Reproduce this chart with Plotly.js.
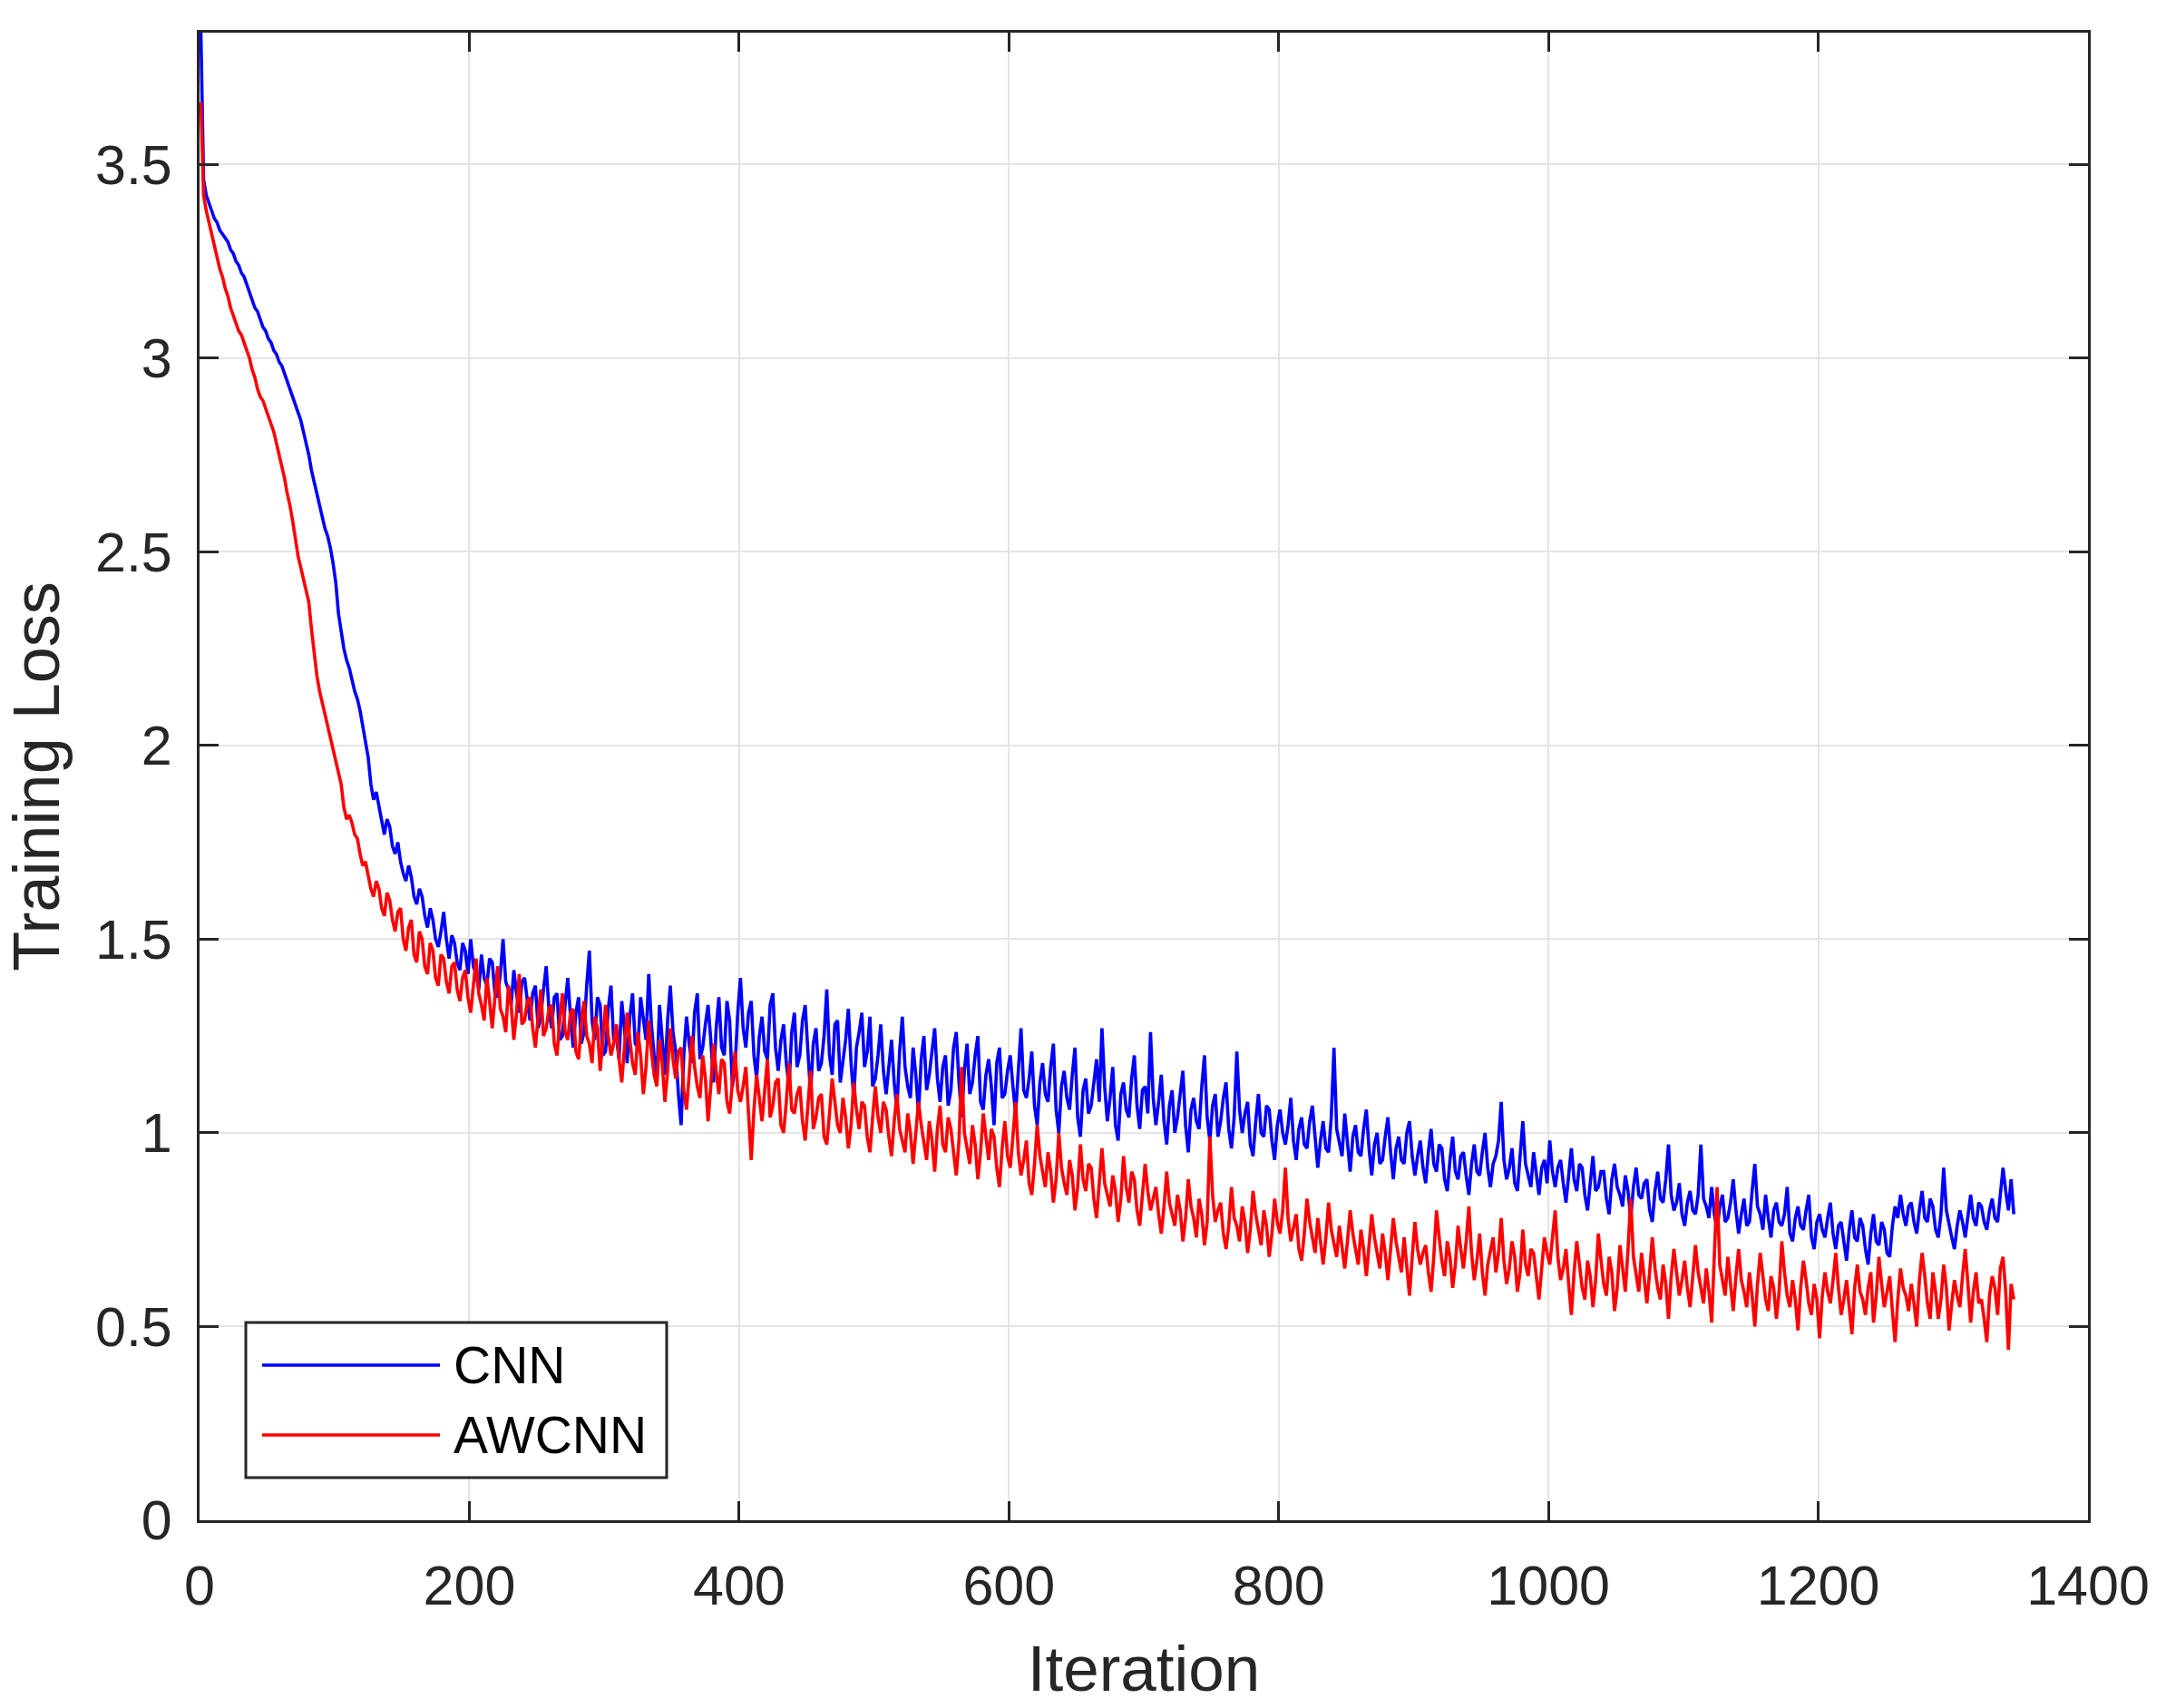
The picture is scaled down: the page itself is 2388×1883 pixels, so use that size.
<!DOCTYPE html>
<html>
<head>
<meta charset="utf-8">
<script src="https://cdn.plot.ly/plotly-3.0.1.min.js"></script>
<style>
  html, body { margin: 0; padding: 0; background: #ffffff; }
  #chart { width: 2388px; height: 1883px; }
</style>
</head>
<body>
<div id="chart"></div>
<script>
// Sampling grid of the recorded losses: every 2nd iteration starting at 1
const iterStart = 1;
const iterStep = 2;

// CNN training loss, 50 values per 100 iterations
const cnnLoss = [
  3.84,3.46,3.42,3.40,3.38,3.36,3.35,3.33,3.32,3.31,3.30,3.28,3.27,3.25,3.24,3.22,3.21,3.19,3.17,3.15,3.13,3.12,3.10,3.08,3.07,
  3.05,3.04,3.02,3.01,2.99,2.98,2.96,2.94,2.92,2.90,2.88,2.86,2.84,2.81,2.78,2.75,2.71,2.68,2.65,2.62,2.59,2.56,2.54,2.51,2.47,
  2.42,2.34,2.29,2.25,2.22,2.20,2.17,2.14,2.12,2.09,2.05,2.01,1.97,1.90,1.86,1.88,1.84,1.80,1.77,1.81,1.79,1.74,1.72,1.75,1.70,
  1.67,1.65,1.69,1.66,1.61,1.59,1.63,1.61,1.56,1.53,1.58,1.55,1.50,1.48,1.52,1.57,1.50,1.45,1.51,1.49,1.44,1.42,1.49,1.47,1.41,
  1.50,1.43,1.41,1.37,1.46,1.40,1.38,1.45,1.44,1.36,1.35,1.41,1.50,1.39,1.37,1.33,1.42,1.36,1.31,1.39,1.40,1.34,1.29,1.36,1.38,
  1.27,1.30,1.37,1.43,1.32,1.27,1.35,1.36,1.24,1.25,1.33,1.40,1.30,1.22,1.31,1.35,1.23,1.26,1.38,1.47,1.29,1.24,1.35,1.33,1.20,
  1.21,1.32,1.38,1.24,1.25,1.19,1.34,1.27,1.18,1.30,1.36,1.23,1.22,1.35,1.30,1.24,1.41,1.28,1.20,1.14,1.33,1.25,1.15,1.29,1.38,
  1.26,1.21,1.10,1.02,1.20,1.30,1.23,1.18,1.31,1.36,1.19,1.22,1.28,1.33,1.24,1.13,1.27,1.35,1.22,1.20,1.34,1.29,1.12,1.17,1.31,
  1.40,1.27,1.22,1.31,1.34,1.20,1.14,1.25,1.30,1.21,1.19,1.33,1.36,1.22,1.16,1.24,1.28,1.18,1.12,1.26,1.31,1.17,1.20,1.29,1.33,
  1.21,1.10,1.23,1.27,1.16,1.18,1.25,1.37,1.20,1.15,1.28,1.29,1.13,1.19,1.24,1.32,1.18,1.09,1.22,1.26,1.31,1.17,1.21,1.30,1.12,
  1.14,1.20,1.28,1.16,1.10,1.18,1.24,1.13,1.06,1.21,1.30,1.17,1.12,1.09,1.22,1.15,1.05,1.19,1.25,1.11,1.15,1.21,1.27,1.14,1.08,
  1.17,1.20,1.07,1.11,1.22,1.26,1.13,1.04,1.16,1.23,1.10,1.13,1.20,1.25,1.08,1.06,1.15,1.19,1.12,1.02,1.18,1.22,1.09,1.10,1.16,
  1.20,1.12,1.05,1.16,1.27,1.11,1.09,1.14,1.21,1.07,1.02,1.13,1.18,1.10,1.08,1.17,1.23,1.06,1.00,1.12,1.16,1.09,1.06,1.15,1.22,
  1.04,0.99,1.11,1.14,1.05,1.07,1.13,1.19,1.08,1.27,1.12,1.03,1.09,1.17,1.02,0.98,1.10,1.13,1.06,1.04,1.14,1.20,1.07,1.01,1.11,
  1.12,1.05,1.26,1.09,1.02,1.08,1.15,1.03,0.97,1.07,1.11,1.00,1.04,1.10,1.16,1.02,0.95,1.06,1.09,1.03,1.01,1.12,1.20,1.04,0.98,
  1.07,1.10,0.99,1.03,1.09,1.13,1.01,0.96,1.04,1.21,1.06,1.00,1.05,1.08,0.97,0.94,1.03,1.10,1.00,0.99,1.07,1.06,0.98,0.93,1.02,
  1.06,1.00,0.97,1.02,1.09,0.98,0.93,1.01,1.04,0.97,0.96,1.03,1.07,0.99,0.91,0.98,1.03,0.96,0.95,1.04,1.22,1.01,0.97,0.94,1.05,
  0.98,0.90,0.99,1.02,0.95,0.94,1.01,1.06,0.96,0.89,0.97,1.00,0.92,0.93,0.99,1.04,0.95,0.88,0.96,0.99,0.93,0.92,1.00,1.03,0.94,
  0.89,0.94,0.98,0.91,0.87,0.95,1.01,0.92,0.90,0.97,0.96,0.88,0.85,0.93,0.99,0.90,0.88,0.94,0.95,0.89,0.84,0.92,0.97,0.90,0.89,
  0.95,1.00,0.91,0.86,0.92,0.94,0.98,1.08,0.93,0.88,0.91,0.96,0.87,0.85,0.94,1.03,0.92,0.89,0.86,0.95,0.90,0.84,0.91,0.93,0.87,
  0.98,0.90,0.86,0.91,0.93,0.87,0.82,0.89,0.96,0.88,0.85,0.92,0.91,0.84,0.80,0.87,0.94,0.85,0.86,0.90,0.90,0.83,0.79,0.88,0.92,
  0.86,0.84,0.81,0.89,0.85,0.78,0.86,0.91,0.84,0.83,0.87,0.88,0.80,0.77,0.85,0.90,0.83,0.82,0.88,0.97,0.84,0.80,0.82,0.87,0.79,
  0.76,0.82,0.85,0.80,0.79,0.84,0.97,0.83,0.81,0.78,0.86,0.79,0.75,0.81,0.84,0.77,0.78,0.82,0.88,0.80,0.74,0.79,0.83,0.76,0.77,
  0.85,0.92,0.81,0.79,0.75,0.84,0.78,0.73,0.80,0.82,0.77,0.76,0.79,0.86,0.74,0.72,0.78,0.81,0.76,0.75,0.80,0.84,0.73,0.70,0.77,
  0.79,0.75,0.73,0.78,0.82,0.74,0.70,0.76,0.77,0.72,0.67,0.75,0.80,0.73,0.72,0.78,0.76,0.70,0.66,0.74,0.79,0.72,0.71,0.77,0.75,
  0.69,0.68,0.76,0.81,0.78,0.84,0.79,0.76,0.81,0.82,0.77,0.74,0.80,0.85,0.78,0.77,0.83,0.81,0.75,0.73,0.79,0.91,0.80,0.76,0.73,
  0.70,0.76,0.80,0.77,0.73,0.79,0.84,0.78,0.76,0.82,0.81,0.77,0.75,0.80,0.83,0.78,0.77,0.84,0.91,0.85,0.80,0.88,0.79
];

// AWCNN training loss, 50 values per 100 iterations
const awcnnLoss = [
  3.66,3.42,3.38,3.35,3.32,3.29,3.26,3.23,3.21,3.18,3.16,3.13,3.11,3.09,3.07,3.06,3.04,3.02,3.00,2.97,2.95,2.92,2.90,2.89,2.87,
  2.85,2.83,2.81,2.78,2.75,2.72,2.69,2.65,2.62,2.58,2.53,2.49,2.46,2.43,2.40,2.37,2.30,2.24,2.18,2.14,2.11,2.08,2.05,2.02,1.99,
  1.96,1.93,1.90,1.84,1.81,1.82,1.80,1.77,1.76,1.72,1.69,1.70,1.66,1.63,1.61,1.65,1.63,1.58,1.56,1.62,1.60,1.55,1.52,1.57,1.58,
  1.50,1.47,1.53,1.55,1.46,1.44,1.52,1.50,1.43,1.41,1.49,1.47,1.40,1.38,1.46,1.45,1.39,1.36,1.43,1.44,1.37,1.34,1.40,1.42,1.35,
  1.31,1.38,1.45,1.36,1.33,1.29,1.40,1.34,1.27,1.35,1.43,1.32,1.30,1.26,1.38,1.33,1.24,1.31,1.41,1.28,1.29,1.34,1.35,1.27,1.22,
  1.30,1.37,1.25,1.27,1.32,1.33,1.23,1.20,1.29,1.36,1.26,1.24,1.31,1.32,1.21,1.19,1.28,1.34,1.25,1.23,1.18,1.30,1.27,1.16,1.24,
  1.33,1.25,1.20,1.23,1.28,1.19,1.13,1.22,1.31,1.24,1.18,1.15,1.26,1.20,1.10,1.17,1.29,1.21,1.15,1.12,1.24,1.18,1.08,1.16,1.27,
  1.19,1.14,1.21,1.22,1.11,1.06,1.15,1.25,1.17,1.12,1.09,1.20,1.14,1.03,1.12,1.23,1.16,1.10,1.19,1.18,1.08,1.05,1.13,1.21,1.11,
  1.08,1.12,1.17,1.05,0.93,1.06,1.15,1.09,1.03,1.11,1.19,1.04,1.07,1.13,1.14,1.02,1.00,1.08,1.18,1.06,1.05,1.10,1.12,1.03,0.98,
  1.07,1.16,1.01,1.04,1.09,1.10,0.99,0.97,1.05,1.14,1.08,1.02,1.00,1.09,1.04,0.96,1.02,1.13,1.06,1.01,1.08,1.07,0.99,0.95,1.04,
  1.12,1.04,1.00,1.08,1.06,0.99,0.94,1.03,1.10,1.01,0.98,0.95,1.05,1.00,0.92,0.99,1.08,1.02,0.97,0.93,1.03,0.98,0.90,1.01,1.07,
  0.97,0.95,1.04,1.01,0.94,0.89,0.98,1.17,1.00,0.96,0.92,1.02,0.97,0.88,0.95,1.05,0.99,0.93,1.01,0.99,0.91,0.86,0.96,1.03,0.94,
  0.91,0.99,1.08,0.95,0.89,0.93,0.98,0.87,0.84,0.92,1.02,0.94,0.90,0.86,0.95,0.90,0.82,0.88,1.00,0.91,0.87,0.84,0.93,0.89,0.80,
  0.86,0.97,0.88,0.85,0.92,0.91,0.83,0.78,0.86,0.96,0.87,0.84,0.81,0.89,0.85,0.77,0.83,0.94,0.86,0.82,0.90,0.88,0.80,0.76,0.84,
  0.92,0.85,0.80,0.83,0.86,0.79,0.74,0.81,0.90,0.82,0.79,0.76,0.84,0.80,0.72,0.78,0.88,0.81,0.78,0.73,0.83,0.79,0.71,0.77,0.99,
  0.84,0.77,0.80,0.82,0.74,0.70,0.76,0.86,0.78,0.76,0.72,0.81,0.77,0.69,0.75,0.85,0.79,0.75,0.71,0.80,0.76,0.68,0.74,0.83,0.77,
  0.74,0.80,0.91,0.78,0.72,0.76,0.79,0.70,0.67,0.74,0.83,0.77,0.73,0.69,0.78,0.72,0.66,0.73,0.82,0.75,0.71,0.68,0.76,0.71,0.65,
  0.72,0.80,0.74,0.70,0.66,0.75,0.70,0.63,0.71,0.79,0.73,0.69,0.65,0.74,0.69,0.62,0.70,0.78,0.72,0.68,0.64,0.73,0.66,0.58,0.68,
  0.77,0.70,0.66,0.69,0.71,0.64,0.59,0.68,0.80,0.73,0.67,0.63,0.72,0.68,0.60,0.66,0.76,0.70,0.65,0.72,0.81,0.69,0.62,0.67,0.74,
  0.64,0.58,0.66,0.70,0.73,0.64,0.69,0.78,0.67,0.61,0.65,0.72,0.68,0.59,0.64,0.75,0.66,0.63,0.70,0.69,0.62,0.57,0.65,0.73,0.69,
  0.66,0.73,0.80,0.68,0.62,0.65,0.70,0.61,0.53,0.64,0.72,0.66,0.60,0.57,0.67,0.63,0.55,0.62,0.74,0.67,0.61,0.58,0.68,0.64,0.54,
  0.60,0.71,0.65,0.59,0.70,0.83,0.68,0.63,0.59,0.69,0.62,0.56,0.64,0.73,0.65,0.60,0.57,0.66,0.61,0.52,0.63,0.70,0.64,0.58,0.62,
  0.67,0.60,0.55,0.63,0.71,0.64,0.60,0.56,0.65,0.59,0.51,0.68,0.86,0.66,0.62,0.58,0.68,0.61,0.54,0.63,0.70,0.62,0.59,0.55,0.64,
  0.58,0.50,0.61,0.69,0.63,0.57,0.54,0.63,0.60,0.52,0.59,0.72,0.64,0.58,0.55,0.62,0.57,0.49,0.60,0.67,0.62,0.56,0.53,0.61,0.57,
  0.47,0.58,0.64,0.59,0.56,0.62,0.69,0.60,0.53,0.57,0.62,0.55,0.48,0.60,0.66,0.59,0.57,0.53,0.60,0.64,0.51,0.58,0.68,0.61,0.55,
  0.59,0.63,0.54,0.46,0.57,0.65,0.60,0.58,0.54,0.61,0.56,0.50,0.62,0.69,0.63,0.56,0.52,0.64,0.59,0.52,0.57,0.66,0.60,0.49,0.56,
  0.62,0.58,0.55,0.63,0.70,0.61,0.51,0.59,0.64,0.56,0.57,0.52,0.46,0.58,0.63,0.60,0.53,0.65,0.68,0.59,0.44,0.61,0.57
];

const seriesNames = ['CNN', 'AWCNN'];
const seriesColors = ['#0000ff', '#ff0000'];

const xTickVals = [0, 200, 400, 600, 800, 1000, 1200, 1400];
const xTickText = ['0', '200', '400', '600', '800', '1000', '1200', '1400'];
const yTickVals = [0, 0.5, 1, 1.5, 2, 2.5, 3, 3.5];
const yTickText = ['0', '0.5', '1', '1.5', '2', '2.5', '3', '3.5'];

const xTitle = 'Iteration';
const yTitle = 'Training Loss';

const iterations = cnnLoss.map((_, i) => iterStart + iterStep * i);

const traces = [
  { x: iterations, y: cnnLoss, name: seriesNames[0], type: 'scatter', mode: 'lines',
    line: { color: seriesColors[0], width: 3.6 }, showlegend: false },
  { x: iterations, y: awcnnLoss, name: seriesNames[1], type: 'scatter', mode: 'lines',
    line: { color: seriesColors[1], width: 3.6 }, showlegend: false }
];

const axisColor = '#262626';
const fontFamily = '"Liberation Sans", Arial, Helvetica, sans-serif';

// Plot-area geometry (pixels) used to place the legend box in paper coordinates
const W = 2388, H = 1883;
const M = { l: 220, r: 86, t: 36, b: 207 };
const plotW = W - M.l - M.r, plotH = H - M.t - M.b;
const px = v => (v - M.l) / plotW;
const py = v => (H - M.b - v) / plotH;

const legendBox = { x0: px(271), x1: px(735), y0: py(1629), y1: py(1458) };
const legendRows = [py(1505), py(1582)];
const legendLine = { x0: px(289), x1: px(485) };
const legendTextX = px(498);

const shapes = [
  { type: 'rect', xref: 'paper', yref: 'paper', layer: 'above',
    x0: legendBox.x0, x1: legendBox.x1, y0: legendBox.y0, y1: legendBox.y1,
    fillcolor: '#ffffff', line: { color: axisColor, width: 3 } }
];
const annotations = [];
seriesNames.forEach((name, i) => {
  shapes.push({ type: 'line', xref: 'paper', yref: 'paper', layer: 'above',
    x0: legendLine.x0, x1: legendLine.x1, y0: legendRows[i], y1: legendRows[i],
    line: { color: seriesColors[i], width: 3.4 } });
  annotations.push({ xref: 'paper', yref: 'paper', x: legendTextX, y: legendRows[i],
    xanchor: 'left', yanchor: 'middle', showarrow: false, text: name,
    font: { size: 57, color: '#000000', family: fontFamily } });
});

const commonAxis = {
  ticks: 'inside', ticklen: 21, tickwidth: 3, tickcolor: axisColor,
  showline: true, linecolor: axisColor, linewidth: 3, mirror: 'allticks',
  showgrid: true, gridcolor: '#e4e4e4', gridwidth: 2,
  zeroline: false, automargin: false,
  tickfont: { size: 61, color: axisColor, family: fontFamily }
};

const layout = {
  width: W, height: H,
  margin: { l: M.l, r: M.r, t: M.t, b: M.b, pad: 0 },
  paper_bgcolor: '#ffffff', plot_bgcolor: '#ffffff',
  font: { family: fontFamily, color: axisColor },
  showlegend: false,
  xaxis: Object.assign({}, commonAxis, {
    range: [0, 1400], tickmode: 'array', tickvals: xTickVals, ticktext: xTickText,
    ticklabelstandoff: 17,
    title: { text: xTitle, font: { size: 71, color: axisColor, family: fontFamily }, standoff: 34 }
  }),
  yaxis: Object.assign({}, commonAxis, {
    range: [0, 3.84], tickmode: 'array', tickvals: yTickVals, ticktext: yTickText,
    ticklabelstandoff: 15,
    title: { text: yTitle, font: { size: 72, color: axisColor, family: fontFamily }, standoff: 29 }
  }),
  shapes: shapes,
  annotations: annotations
};

Plotly.newPlot('chart', traces, layout, { displayModeBar: false, staticPlot: true });
</script>
</body>
</html>
